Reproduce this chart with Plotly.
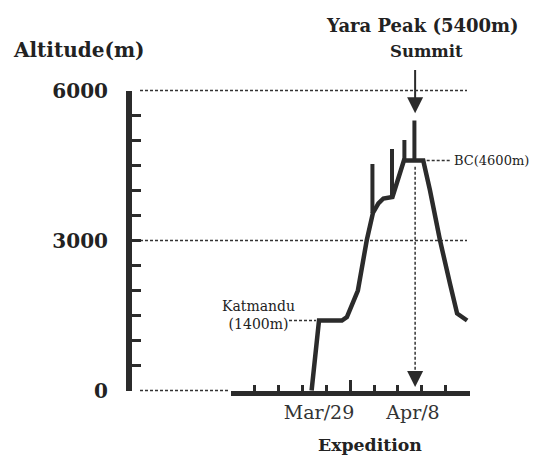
import plotly.graph_objects as go

# ---------------- data ----------------
# x in "tick units" of the expedition axis (0..10), y = altitude in metres
route_x = [3.38, 3.69, 4.65, 4.86, 5.32, 5.69, 5.95, 6.18, 6.39, 6.77, 7.25, 8.06, 8.34, 8.76, 9.18, 9.48, 9.90]
route_alt = [0, 1400, 1400, 1470, 2000, 3000, 3550, 3740, 3840, 3870, 4600, 4600, 4010, 3010, 2140, 1540, 1400]

# acclimatisation / summit pushes (vertical excursions)
spike_x = [5.93, 6.75, 7.27, 7.69]
spike_base = [3550, 3870, 4600, 4600]
spike_top = [4530, 4830, 5010, 5400]

y_ticks = [0, 3000, 6000]
y_ticklabels = ["0", "3000", "6000"]
date_pos = [3.69, 7.63]
date_labels = ["Mar/29", "Apr/8"]

summit_x = 7.72
summit_alt = 5400
bc_alt = 4600
katmandu_alt = 1400

# ---------------- styling ----------------
OFF = 8            # page body margin of the html page
W, H = 541, 459
INK = "#2b2b2b"
FONT = "DejaVu Serif"
PX_PER_U = 23.85
X0_PX = 231.0 - OFF
Y0_PX = 390.5 - OFF
PX_PER_M = 0.05


def px2u(px):
    return (px - OFF - X0_PX) / PX_PER_U


def py2m(py):
    return (Y0_PX - (py - OFF)) / PX_PER_M


fig = go.Figure()

# dotted reference lines
dot = dict(color="#333333", width=1.5, dash="3px,2px")
for lvl in [6000, 3000]:
    fig.add_trace(go.Scatter(x=[px2u(140), px2u(467)], y=[lvl, lvl], mode="lines", line=dot, hoverinfo="skip"))
fig.add_trace(go.Scatter(x=[px2u(140), px2u(228)], y=[0, 0], mode="lines", line=dot, hoverinfo="skip"))
fig.add_trace(go.Scatter(x=[px2u(289), px2u(316)], y=[katmandu_alt, katmandu_alt], mode="lines", line=dot, hoverinfo="skip"))
fig.add_trace(go.Scatter(x=[px2u(426.7), px2u(450)], y=[bc_alt, bc_alt], mode="lines", line=dot, hoverinfo="skip"))
# vertical dotted summit line down to the axis
fig.add_trace(go.Scatter(x=[summit_x, summit_x], y=[py2m(166.7), py2m(372)], mode="lines", line=dot, hoverinfo="skip"))
fig.add_trace(go.Scatter(x=[summit_x], y=[py2m(387)], mode="markers",
                         marker=dict(symbol="arrow-down", size=16, color=INK), hoverinfo="skip"))

# top summit arrow
fig.add_trace(go.Scatter(x=[summit_x, summit_x], y=[py2m(70), py2m(100)], mode="lines",
                         line=dict(color=INK, width=2), hoverinfo="skip"))
fig.add_trace(go.Scatter(x=[summit_x], y=[py2m(113.3)], mode="markers",
                         marker=dict(symbol="arrow-down", size=16, color=INK), hoverinfo="skip"))

# spikes
sx, sy = [], []
for x, b, t in zip(spike_x, spike_base, spike_top):
    sx += [x, x, None]
    sy += [b, t, None]
fig.add_trace(go.Scatter(x=sx, y=sy, mode="lines", line=dict(color=INK, width=4), hoverinfo="skip"))

# route profile
fig.add_trace(go.Scatter(x=route_x, y=route_alt, mode="lines",
                         line=dict(color=INK, width=4.5), hoverinfo="skip"))

# dummy traces to instantiate decorative axes
fig.add_trace(go.Scatter(x=[None], y=[None], xaxis="x2", yaxis="y2", hoverinfo="skip"))
fig.add_trace(go.Scatter(x=[None], y=[None], xaxis="x3", yaxis="y2", hoverinfo="skip"))

ydom = [(H - Y0_PX) / H, (H - (90.5 - OFF)) / H]
xdom = [X0_PX / W, (X0_PX + 10 * PX_PER_U) / W]

fig.update_layout(
    width=W, height=H,
    margin=dict(l=0, r=0, t=0, b=0, pad=0, autoexpand=False),
    paper_bgcolor="white",
    plot_bgcolor="rgba(0,0,0,0)",
    showlegend=False,
    xaxis=dict(range=[px2u(OFF), px2u(W + OFF)], visible=False, domain=[0, 1], fixedrange=True, automargin=False),
    yaxis=dict(range=[py2m(H + OFF), py2m(OFF)], visible=False, domain=[0, 1], fixedrange=True, automargin=False),
    xaxis2=dict(domain=xdom, range=[0, 10], anchor="y2", showline=True, linewidth=5, linecolor=INK,
                showgrid=False, zeroline=False, ticks="inside", tickvals=[0, 5, 10], ticklen=11,
                tickwidth=3, tickcolor=INK, showticklabels=False, automargin=False,
                minor=dict(dtick=1, tick0=0, ticks="inside", ticklen=6, tickwidth=3, tickcolor=INK, showgrid=False)),
    xaxis3=dict(range=[0, 10], anchor="y2", overlaying="x2", showline=False, showgrid=False, zeroline=False,
                ticks="", tickvals=date_pos, ticktext=date_labels, side="bottom", ticklabelstandoff=8,
                automargin=False, tickfont=dict(family=FONT, size=19, color="#333")),
    yaxis2=dict(domain=ydom, range=[0, 6000], anchor="free", position=(129 - OFF) / W, showline=True, linewidth=6,
                linecolor=INK, showgrid=False, zeroline=False, ticks="inside", tickvals=y_ticks,
                ticktext=y_ticklabels, ticklen=9, tickwidth=3, tickcolor=INK, ticklabelstandoff=14,
                automargin=False, tickfont=dict(family=FONT, size=20, color="#222", weight="bold"),
                minor=dict(dtick=500, tick0=0, ticks="inside", ticklen=9, tickwidth=3, tickcolor=INK, showgrid=False)),
)


def ann(text, px, py, size, bold=False, xanchor="center"):
    fig.add_annotation(text=text, x=(px - OFF) / W, y=1 - (py - OFF) / H, xref="paper", yref="paper",
                       xanchor=xanchor, yanchor="middle", showarrow=False,
                       font=dict(family=FONT, size=size, color="#222", weight="bold" if bold else "normal"))


ann("Altitude(m)", 79, 50, 20, bold=True)
ann("Yara Peak (5400m)", 422, 26, 18, bold=True)
ann("Summit", 426, 51, 16.5, bold=True)
ann("Katmandu<br>(1400m)", 258, 315, 14)
ann("BC(4600m)", 452, 161, 13, xanchor="left")
ann("Expedition", 370, 445, 17.3, bold=True)

fig.write_html("out.html")
